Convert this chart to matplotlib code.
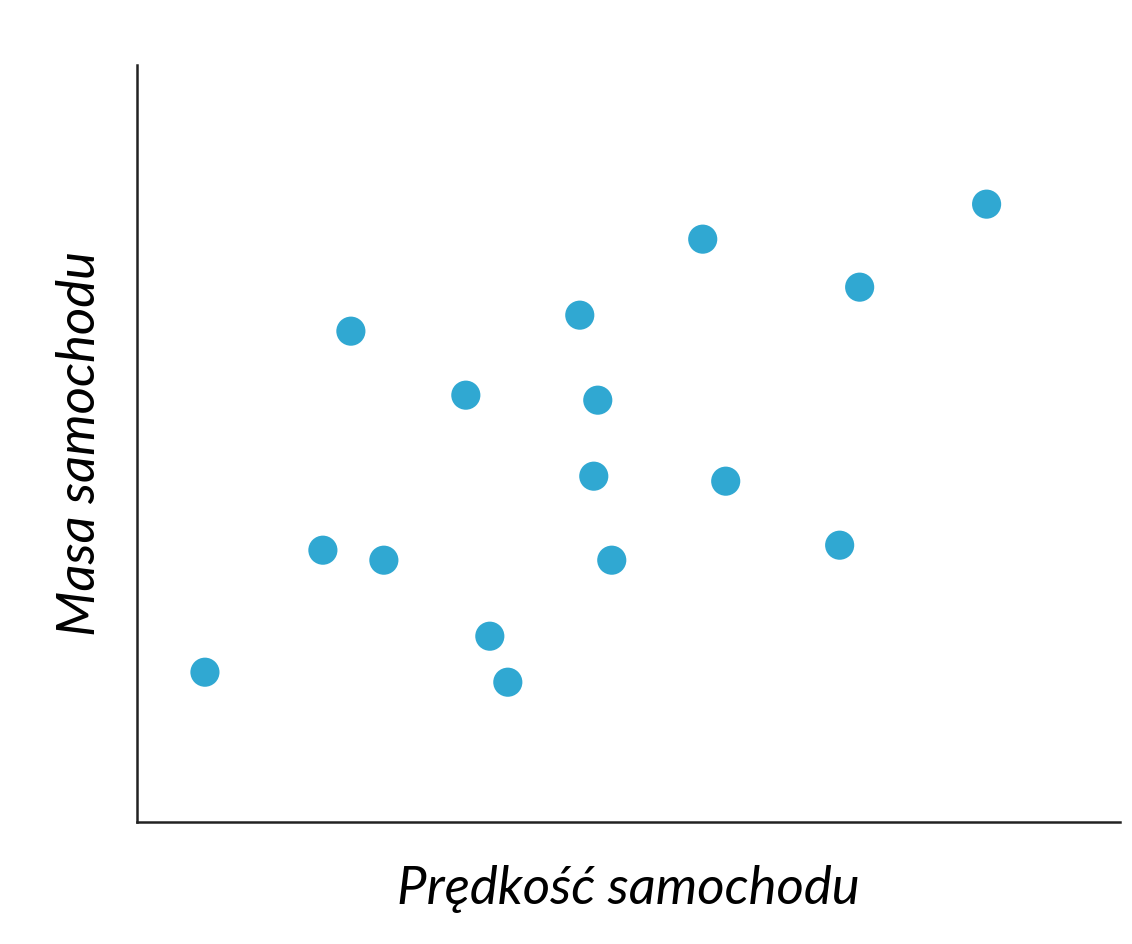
import matplotlib
matplotlib.use("Agg")
import matplotlib.pyplot as plt

# predkosc / masa (arbitrary units)
predkosc = [68, 186, 247, 214, 329, 353, 371, 443, 461, 457, 475, 566, 589, 703, 723, 850]
masa = [150, 272, 262, 491, 427, 186, 140, 507, 422, 346, 262, 583, 341, 277, 535, 618]

plt.rcParams['font.family'] = ['Lato', 'DejaVu Sans']

fig = plt.figure(figsize=(11.32, 9.44), dpi=100)
ax = fig.add_axes([0.121, 0.129, 0.868, 0.802])

ax.scatter(predkosc, masa, s=440, color='#30A8D2', edgecolors='none', zorder=3)

ax.set_xlim(0, 983)
ax.set_ylim(0, 757)
ax.set_xticks([])
ax.set_yticks([])
ax.spines['top'].set_visible(False)
ax.spines['right'].set_visible(False)
for s in ('left', 'bottom'):
    ax.spines[s].set_linewidth(1.8)
    ax.spines[s].set_color('#222222')

ax.set_xlabel("Prędkość samochodu", fontsize=38, style='italic', labelpad=31)
ax.set_ylabel("Masa samochodu", fontsize=38, style='italic', labelpad=24)

fig.savefig("out.png", dpi=100, facecolor='white')
